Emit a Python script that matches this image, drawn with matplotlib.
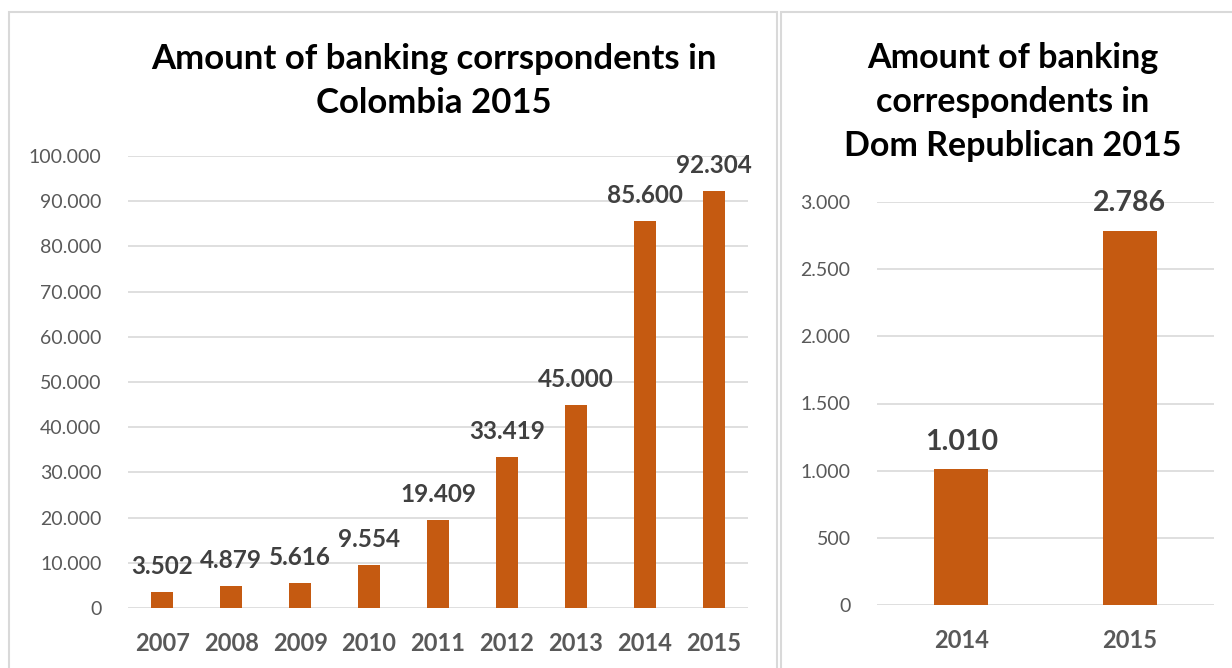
import matplotlib.pyplot as plt
from matplotlib.patches import Rectangle
from matplotlib.ticker import FuncFormatter, MultipleLocator

plt.rcParams['font.family'] = ['Lato', 'DejaVu Sans']

# Data
col_years = ["2007", "2008", "2009", "2010", "2011", "2012", "2013", "2014", "2015"]
col_values = [3502, 4879, 5616, 9554, 19409, 33419, 45000, 85600, 92304]
dom_years = ["2014", "2015"]
dom_values = [1010, 2786]

col_title = "Amount of banking corrspondents in\nColombia 2015"
dom_title = "Amount of banking\ncorrespondents in\nDom Republican 2015"

bar_color = "#C55A11"
grid_color = "#D9D9D9"
tick_gray = "#595959"
label_gray = "#404040"

W, H = 1232, 668
fig = plt.figure(figsize=(W / 100, H / 100), dpi=100)


def dots(v, pos=None):
    return f"{int(v):,}".replace(",", ".")


# panel frames
fig.patches.append(Rectangle((9 / W, -0.05), (777 - 9) / W, (H - 12) / H + 0.05,
                             transform=fig.transFigure, fill=False,
                             edgecolor=grid_color, linewidth=1.5))
fig.patches.append(Rectangle((781 / W, -0.05), 0.5, (H - 12) / H + 0.05,
                             transform=fig.transFigure, fill=False,
                             edgecolor=grid_color, linewidth=1.5))


def draw(ax, years, values, ymax, step, lab_size, lab_off, ypad, xpad):
    x = range(len(years))
    bars = ax.bar(x, values, width=0.32, color=bar_color, zorder=3)
    ax.set_xlim(-0.5, len(years) - 0.5)
    ax.set_ylim(0, ymax)
    ax.yaxis.set_major_locator(MultipleLocator(step))
    ax.yaxis.set_major_formatter(FuncFormatter(dots))
    ax.grid(axis="y", color=grid_color, linewidth=1.2, zorder=0)
    for s in ax.spines.values():
        s.set_visible(False)
    ax.set_xticks(list(x))
    ax.set_xticklabels(years, fontsize=17, fontweight="bold", color=tick_gray)
    ax.tick_params(axis="both", length=0)
    ax.tick_params(axis="y", labelsize=14, labelcolor=tick_gray, pad=ypad)
    ax.tick_params(axis="x", pad=xpad)
    for b, v in zip(bars, values):
        ax.annotate(dots(v), (b.get_x() + b.get_width() / 2, v),
                    xytext=(0, lab_off), textcoords="offset points",
                    ha="center", va="baseline", fontsize=lab_size,
                    fontweight="bold", color=label_gray)
    ax.set_facecolor("none")


ax1 = fig.add_axes([128 / W, (H - 608) / H, 620 / W, (608 - 156) / H])
draw(ax1, col_years, col_values, 100000, 10000, 17.5, 13, 19, 17)

ax2 = fig.add_axes([877 / W, (H - 605) / H, 337 / W, (605 - 202) / H])
draw(ax2, dom_years, dom_values, 3000, 500, 20.5, 14, 19, 17)

fig.text(434 / W, 1 - 81 / H, col_title, ha="center", va="center",
         fontsize=25, fontweight="bold", color="black", linespacing=1.45)
fig.text(1013 / W, 1 - 102 / H, dom_title, ha="center", va="center",
         fontsize=24.5, fontweight="bold", color="black", linespacing=1.45)

fig.savefig("out.png", dpi=100)
